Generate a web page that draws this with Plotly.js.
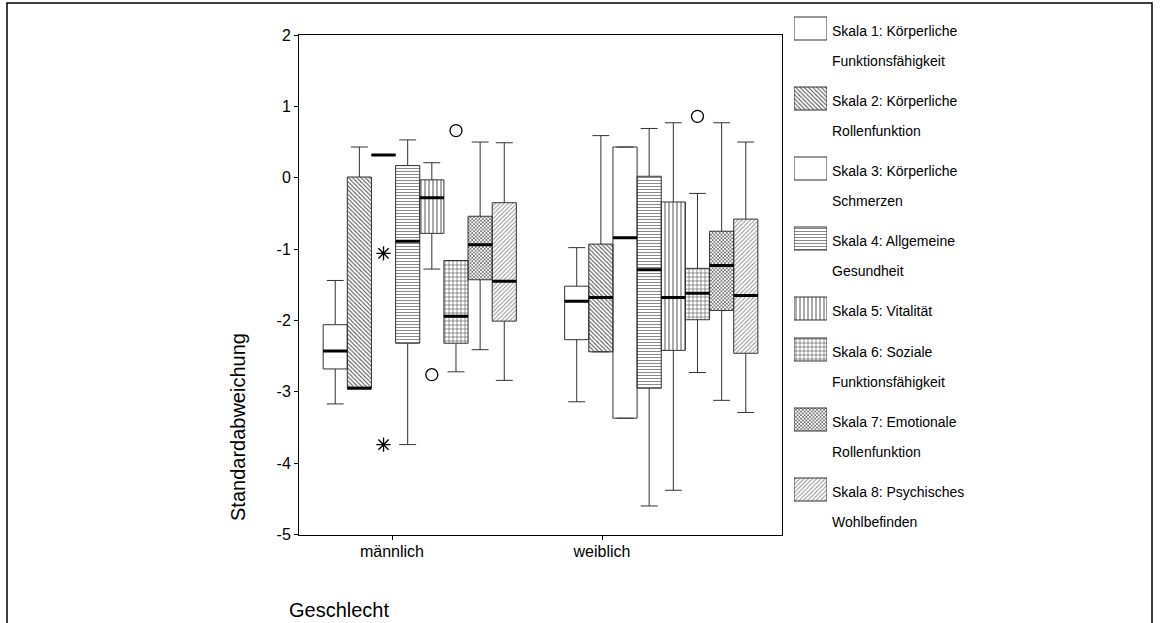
<!DOCTYPE html>
<html><head><meta charset="utf-8">
<script src="https://cdn.plot.ly/plotly-3.0.1.min.js"></script>
<style>html,body{margin:0;padding:0;background:#fff}#chart{width:1161px;height:623px}</style>
</head><body><div id="chart"></div>
<script>
// ---------- data ----------
const categories = ['männlich', 'weiblich'];
const skalaLabels = [
  ['Skala 1: Körperliche', 'Funktionsfähigkeit'],
  ['Skala 2: Körperliche', 'Rollenfunktion'],
  ['Skala 3: Körperliche', 'Schmerzen'],
  ['Skala 4: Allgemeine', 'Gesundheit'],
  ['Skala 5: Vitalität'],
  ['Skala 6: Soziale', 'Funktionsfähigkeit'],
  ['Skala 7: Emotionale', 'Rollenfunktion'],
  ['Skala 8: Psychisches', 'Wohlbefinden']
];
// per skala: [männlich, weiblich]
const q1Values     = [[-2.68,-2.27],[-2.95,-2.44],[0.32,-3.37],[-2.32,-2.95],[-0.78,-2.42],[-2.32,-1.99],[-1.43,-1.86],[-2.01,-2.46]];
const medianValues = [[-2.43,-1.73],[-2.95,-1.68],[0.32,-0.84],[-0.89,-1.29],[-0.28,-1.68],[-1.94,-1.62],[-0.94,-1.23],[-1.45,-1.65]];
const q3Values     = [[-2.06,-1.52],[0.01,-0.93],[0.32,0.43],[0.17,0.02],[-0.03,-0.34],[-1.16,-1.27],[-0.54,-0.75],[-0.35,-0.58]];
const lowerWhisker = [[-3.17,-3.14],[-2.95,-2.44],[0.32,-3.37],[-3.74,-4.60],[-1.28,-4.38],[-2.72,-2.73],[-2.41,-3.12],[-2.84,-3.29]];
const upperWhisker = [[-1.44,-0.98],[0.43,0.59],[0.32,0.43],[0.53,0.69],[0.21,0.77],[-1.16,-0.22],[0.50,0.77],[0.49,0.50]];
// outliers
const outlierSkala = [2, 2, 4, 5, 5];           // index into skala list
const outlierGroup = ['männlich','männlich','männlich','männlich','weiblich'];
const outlierValue = [-1.06, -3.74, -2.76, 0.66, 0.86];
const outlierKind  = ['extrem','extrem','ausreißer','ausreißer','ausreißer'];
// axis ticks
const yTickValues = [2, 1, 0, -1, -2, -3, -4, -5];
const yTickLabels = ['2', '1', '0', '-1', '-2', '-3', '-4', '-5'];

// ---------- styles ----------
const patternShapes = ['', '\\', '', '-', '|', '+', 'x', '/'];
const patternColors = ['#ffffff', '#555555', '#ffffff', '#8a8a8a', '#555555', '#3a3a3a', '#4a4a4a', '#8a8a8a'];
const patternSizes  = [4, 3, 4, 3, 4, 4, 2.5, 3];
const patternSolid  = [0.3, 0.35, 0.3, 0.35, 0.25, 0.25, 0.45, 0.3];
const FONT = 'Liberation Sans, Arial, Helvetica, sans-serif';

// ---------- geometry ----------
const W = 1161, H = 623;
const M = {l: 299, r: 161, t: 5, b: 83};
const pw = W - M.l - M.r, ph = H - M.t - M.b;
const plotRight = 782, plotTop = 35, plotBottom = 534.5;
const px = x => (x - M.l) / pw;
const py = y => (H - M.b - y) / ph;
const tickPx = [392, 602];
const tickSpacing = tickPx[1] - tickPx[0];

const traces = [];
// pattern fills (bars between q1 and q3)
skalaLabels.forEach((lab, i) => {
  traces.push({
    type: 'bar', x: categories, base: q1Values[i],
    y: q3Values[i].map((v, j) => v - q1Values[i][j]),
    offsetgroup: 's' + i, hoverinfo: 'skip',
    marker: {color: '#ffffff', line: {width: 0},
      pattern: {shape: patternShapes[i], fgcolor: patternColors[i], bgcolor: '#ffffff', size: patternSizes[i], solidity: patternSolid[i]}}
  });
});
// box outlines + whiskers
skalaLabels.forEach((lab, i) => {
  traces.push({
    type: 'box', x: categories, q1: q1Values[i], median: medianValues[i], q3: q3Values[i],
    lowerfence: lowerWhisker[i], upperfence: upperWhisker[i],
    offsetgroup: 's' + i, fillcolor: 'rgba(0,0,0,0)', line: {color: '#333', width: 1},
    whiskerwidth: 0.7, hoverinfo: 'skip', name: lab.join(' ')
  });
});
// thick median lines
skalaLabels.forEach((lab, i) => {
  traces.push({
    type: 'box', x: categories, q1: medianValues[i], median: medianValues[i], q3: medianValues[i],
    lowerfence: medianValues[i], upperfence: medianValues[i],
    offsetgroup: 's' + i, fillcolor: 'rgba(0,0,0,0)', line: {color: '#000', width: 3},
    whiskerwidth: 0, hoverinfo: 'skip'
  });
});
// outliers
const outKeys = {};
outlierSkala.forEach((s, k) => {
  const key = s + '_' + outlierKind[k];
  (outKeys[key] = outKeys[key] || {s: s, kind: outlierKind[k], x: [], y: []});
  outKeys[key].x.push(outlierGroup[k]); outKeys[key].y.push(outlierValue[k]);
});
Object.values(outKeys).forEach(o => {
  traces.push({
    type: 'box', x: o.x, y: o.y, boxpoints: 'all', jitter: 0, pointpos: 0,
    offsetgroup: 's' + o.s, fillcolor: 'rgba(0,0,0,0)', line: {color: 'rgba(0,0,0,0)', width: 0},
    whiskerwidth: 0, hoverinfo: 'skip',
    marker: {symbol: o.kind === 'extrem' ? 'asterisk-open' : 'circle-open', size: 12,
      color: '#000', line: {color: '#000', width: 1.3}}
  });
});
// empty carrier trace so the category tick axis (x2) is drawn
traces.push({type: 'scatter', mode: 'markers', x: categories, y: categories.map(() => null),
  xaxis: 'x2', yaxis: 'y', hoverinfo: 'skip', showlegend: false});

// legend swatches + texts
const annotations = [];
const swatchY = [];
let legendTop = 17;
skalaLabels.forEach(lines => {
  swatchY.push(legendTop + 11.5);
  lines.forEach((t, li) => annotations.push({
    text: t, xref: 'x3', yref: 'y3', x: 1, y: legendTop + 14 + 30 * li, xanchor: 'left', yanchor: 'middle',
    xshift: 3, showarrow: false, font: {family: FONT, size: 14, color: '#000'}
  }));
  legendTop += 12 + 29 * lines.length;
});
traces.push({
  type: 'bar', orientation: 'h', x: skalaLabels.map(() => 1), y: swatchY, base: 0, width: 23,
  xaxis: 'x3', yaxis: 'y3', hoverinfo: 'skip',
  marker: {color: '#ffffff', line: {color: '#333', width: 1},
    pattern: {shape: patternShapes, fgcolor: patternColors, bgcolor: '#ffffff', size: patternSizes, solidity: patternSolid}}
});

annotations.push({
  text: 'Standardabweichung', xref: 'paper', yref: 'paper', x: px(238), y: py(427),
  textangle: -90, showarrow: false, xanchor: 'center', yanchor: 'middle',
  font: {family: FONT, size: 20, color: '#000'}
});
annotations.push({
  text: 'Geschlecht', xref: 'paper', yref: 'paper', x: px(287), y: py(610),
  showarrow: false, xanchor: 'left', yanchor: 'middle',
  font: {family: FONT, size: 20, color: '#000'}
});

const layout = {
  width: W, height: H, margin: M, paper_bgcolor: '#fff', plot_bgcolor: '#fff', showlegend: false,
  font: {family: FONT, color: '#000', size: 16},
  barmode: 'group', bargap: 0.2, bargroupgap: 0, boxmode: 'group', boxgap: 0.2, boxgroupgap: 0,
  xaxis: {type: 'category', categoryarray: categories, domain: [0, px(plotRight)], range: [-0.5, 1.5],
    showline: true, mirror: true, linecolor: '#000', linewidth: 1, ticks: '', showticklabels: false,
    showgrid: false, zeroline: false, fixedrange: true},
  xaxis2: {overlaying: 'x', anchor: 'y', type: 'category', categoryarray: categories, domain: [0, px(plotRight)],
    range: [-(tickPx[0] - M.l) / tickSpacing, 1 + (plotRight - tickPx[1]) / tickSpacing],
    ticks: 'outside', ticklen: 4, tickcolor: '#000', ticklabelstandoff: -2,
    showline: false, showgrid: false, zeroline: false, tickfont: {family: FONT, size: 16}},
  yaxis: {domain: [py(plotBottom), py(plotTop)], range: [-5, 2], tickvals: yTickValues, ticktext: yTickLabels,
    ticks: 'outside', ticklen: 4, tickcolor: '#000', showline: true, mirror: true, linecolor: '#000',
    showgrid: false, zeroline: false, tickfont: {family: FONT, size: 16}},
  xaxis3: {domain: [px(794), px(827)], anchor: 'y3', range: [0, 1], visible: false},
  yaxis3: {domain: [0, 1], anchor: 'x3', range: [H - M.b, M.t], visible: false},
  annotations: annotations,
  shapes: [{type: 'rect', xref: 'paper', yref: 'paper', x0: px(7), x1: px(1152), y0: py(3), y1: py(650),
    line: {color: '#000', width: 1.5}, fillcolor: 'rgba(0,0,0,0)'}]
};
Plotly.newPlot('chart', traces, layout, {displayModeBar: false, staticPlot: true});
</script></body></html>
